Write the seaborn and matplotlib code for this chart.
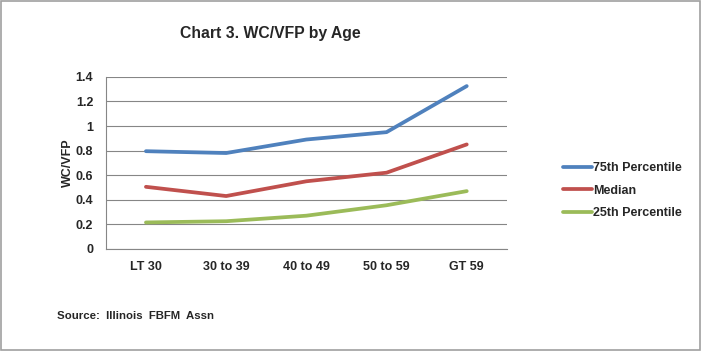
import numpy as np
import pandas as pd
import matplotlib
matplotlib.use("Agg")
import matplotlib.pyplot as plt
import seaborn as sns
from matplotlib.patches import Rectangle

age_groups = ["LT 30", "30 to 39", "40 to 49", "50 to 59", "GT 59"]
p75 = [0.795, 0.78, 0.89, 0.95, 1.325]
median = [0.505, 0.43, 0.55, 0.62, 0.85]
p25 = [0.215, 0.225, 0.27, 0.355, 0.47]
series_names = ["75th Percentile", "Median", "25th Percentile"]
colors = ["#4F81BD", "#C0504D", "#9BBB59"]

df = pd.DataFrame({
    "Age": age_groups * 3,
    "Value": p75 + median + p25,
    "Series": np.repeat(series_names, len(age_groups)),
})
df["pos"] = df["Age"].map({a: i for i, a in enumerate(age_groups)})

sns.set_style("white")
plt.rcParams["font.family"] = ["Liberation Sans", "DejaVu Sans"]

fig = plt.figure(figsize=(7.01, 3.51), dpi=100)
ax = fig.add_axes([0.151, 0.291, 0.572, 0.49])

sns.lineplot(data=df, x="pos", y="Value", hue="Series", hue_order=series_names,
             palette=colors, linewidth=2.7, ax=ax, legend=False)

ax.set_xlim(-0.5, 4.5)
ax.set_ylim(0, 1.4)
ax.set_yticks(np.arange(0, 1.41, 0.2))
ax.set_yticklabels(["0", "0.2", "0.4", "0.6", "0.8", "1", "1.2", "1.4"],
                   fontsize=9, fontweight="bold")
ax.set_xticks(range(len(age_groups)))
ax.set_xticklabels(age_groups, fontsize=9, fontweight="bold")
ax.set_xticks(np.arange(-0.5, 4.6, 1), minor=True)
ax.tick_params(axis="x", which="major", length=0, pad=9)
ax.tick_params(axis="x", which="minor", length=5, color="#868686", direction="out")
ax.tick_params(axis="y", length=5, color="#868686", direction="out", pad=4)
ax.yaxis.grid(True, color="#868686", linewidth=0.8)
ax.set_axisbelow(True)
for s in ["top", "right"]:
    ax.spines[s].set_visible(False)
for s in ["left", "bottom"]:
    ax.spines[s].set_color("#868686")
    ax.spines[s].set_linewidth(0.8)
ax.set_xlabel("")
ax.set_ylabel("WC/VFP", fontsize=9, fontweight="bold", labelpad=1)

handles = [plt.Line2D([], [], color=c, linewidth=2.7) for c in colors]
fig.legend(handles, series_names, loc="center left", bbox_to_anchor=(0.787, 0.457),
           frameon=False, prop={"weight": "bold", "size": 9},
           handlelength=2.3, handletextpad=0.1, labelspacing=0.85)

fig.text(0.385, 0.905, "Chart 3. WC/VFP by Age", fontsize=11.3, fontweight="bold",
         ha="center", va="center")
fig.text(0.081, 0.1, "Source:  Illinois  FBFM  Assn", fontsize=8.2, fontweight="bold",
         ha="left", va="center")

fig.patches.append(Rectangle((0.001, 0.002), 0.997, 0.995, transform=fig.transFigure,
                             fill=False, edgecolor="#A0A0A0", linewidth=1.2))

fig.savefig("out.png", dpi=100)
